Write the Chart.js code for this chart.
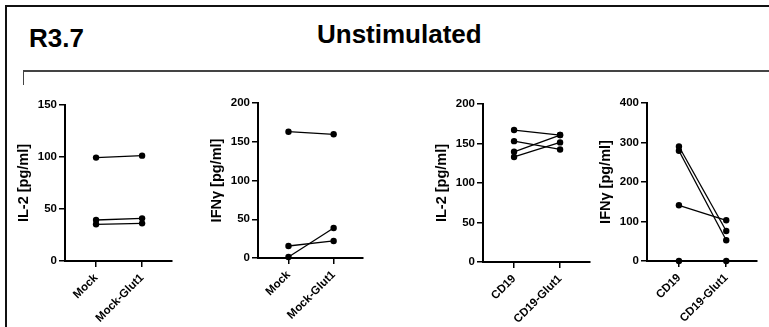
<!DOCTYPE html>
<html lang="en">
<head>
    <meta charset="UTF-8">
    <title>R3.7 Unstimulated</title>
    <script src="https://cdn.jsdelivr.net/npm/chart.js"></script>
    <style>
        body {
            margin: 0;
            padding: 0;
            background: #ffffff;
            font-family: 'Liberation Sans', Arial, sans-serif;
        }
        .page {
            position: relative;
            width: 769px;
            height: 327px;
            overflow: hidden;
        }
        .frame {
            position: absolute;
            left: 5px;
            top: 5px;
            width: 800px;
            height: 400px;
            border-left: 2px solid #111;
            border-top: 2px solid #111;
        }
        .bracket {
            position: absolute;
            left: 23px;
            top: 70px;
            width: 800px;
            height: 13px;
            border-left: 1.5px solid #444;
            border-top: 2px solid #444;
        }
        .label {
            position: absolute;
            font-weight: bold;
            color: #000;
            font-size: 26px;
            white-space: nowrap;
        }
        canvas {
            position: absolute;
        }
    </style>
</head>
<body>
<div class="page">
    <div class="frame"></div>
    <div class="bracket"></div>
    <div class="label" id="panelTag" style="left:29px; top:23px;">R3.7</div>
    <div class="label" id="mainTitle" style="left:317px; top:19px;">Unstimulated</div>
    <canvas id="c1"></canvas>
    <canvas id="c2"></canvas>
    <canvas id="c3"></canvas>
    <canvas id="c4"></canvas>
</div>

<script>
    // categories
    const mockGroups = ['Mock', 'Mock-Glut1'];
    const cd19Groups = ['CD19', 'CD19-Glut1'];

    // axis titles
    const il2Title = 'IL-2 [pg/ml]';
    const ifnTitle = 'IFNγ [pg/ml]';

    // y tick labels
    const il2MockTicks = [0, 50, 100, 150];
    const ifnMockTicks = [0, 50, 100, 150, 200];
    const il2Cd19Ticks = [0, 50, 100, 150, 200];
    const ifnCd19Ticks = [0, 100, 200, 300, 400];

    // paired donors: [before, after]
    const il2Mock = [[99.4, 101.3], [39.4, 41], [35.3, 36.2]];
    const ifnMock = [[163, 159.6], [15.5, 22], [1.3, 38.7]];
    const il2Cd19 = [[167, 160.7], [153, 142.5], [139.5, 160.7], [133, 151.4]];
    const ifnCd19 = [[290, 76], [279, 52.5], [141, 103], [0, 0]];

    // chart area boxes on the page: left, top, right, bottom
    const panels = [
        { id: 'c1', cats: mockGroups, title: il2Title, ticks: il2MockTicks, series: il2Mock, box: [65, 105, 172, 261] },
        { id: 'c2', cats: mockGroups, title: ifnTitle, ticks: ifnMockTicks, series: ifnMock, box: [258, 103, 363, 258] },
        { id: 'c3', cats: cd19Groups, title: il2Title, ticks: il2Cd19Ticks, series: il2Cd19, box: [483, 104, 590, 262] },
        { id: 'c4', cats: cd19Groups, title: ifnTitle, ticks: ifnCd19Ticks, series: ifnCd19, box: [647, 103, 757, 261] }
    ];

    const yBoxWidth = 54;
    const xBoxHeight = 65;
    const padTop = 10;
    const padRight = 8;

    panels.forEach(p => {
        const [l, t, r, b] = p.box;
        const canvas = document.getElementById(p.id);
        canvas.width = (r - l) + yBoxWidth + padRight;
        canvas.height = (b - t) + padTop + xBoxHeight;
        canvas.style.left = (l - yBoxWidth) + 'px';
        canvas.style.top = (t - padTop) + 'px';

        const datasets = p.series.map(pair => ({
            data: pair.map((v, i) => ({ x: i, y: v })),
            borderColor: '#000',
            borderWidth: 1.3,
            pointRadius: 3.2,
            pointBackgroundColor: '#000',
            pointBorderColor: '#000',
            pointBorderWidth: 0,
            clip: false
        }));

        new Chart(canvas.getContext('2d'), {
            type: 'line',
            data: { datasets: datasets },
            options: {
                responsive: false,
                animation: false,
                layout: { padding: { top: padTop, right: padRight, left: 0, bottom: 0 } },
                plugins: { legend: { display: false }, tooltip: { enabled: false } },
                scales: {
                    x: {
                        type: 'linear',
                        min: -0.675,
                        max: 1.65,
                        afterBuildTicks: s => { s.ticks = [{ value: 0 }, { value: 1 }]; },
                        afterFit: s => { s.height = xBoxHeight; s.paddingLeft = 0; s.paddingRight = 0; },
                        grid: { drawOnChartArea: false, drawTicks: true, tickLength: 6, color: '#000', lineWidth: 1.5 },
                        border: { display: true, color: '#000', width: 2 },
                        ticks: {
                            color: '#000',
                            font: { family: 'Liberation Sans', weight: 'bold', size: 11.5 },
                            maxRotation: 45,
                            minRotation: 45,
                            autoSkip: false,
                            padding: 4,
                            callback: v => p.cats[v]
                        }
                    },
                    y: {
                        min: 0,
                        max: p.ticks[p.ticks.length - 1],
                        afterBuildTicks: s => { s.ticks = p.ticks.map(v => ({ value: v })); },
                        afterFit: s => { s.width = yBoxWidth; },
                        grid: { drawOnChartArea: false, drawTicks: true, tickLength: 6, color: '#000', lineWidth: 1.5 },
                        border: { display: true, color: '#000', width: 2 },
                        ticks: {
                            color: '#000',
                            font: { family: 'Liberation Sans', weight: 'bold', size: 11.5 },
                            padding: 2
                        },
                        title: {
                            display: true,
                            text: p.title,
                            color: '#000',
                            font: { family: 'Liberation Sans', weight: 'bold', size: 14.5 },
                            padding: { top: 4, bottom: 4 }
                        }
                    }
                }
            }
        });
    });
</script>
</body>
</html>
